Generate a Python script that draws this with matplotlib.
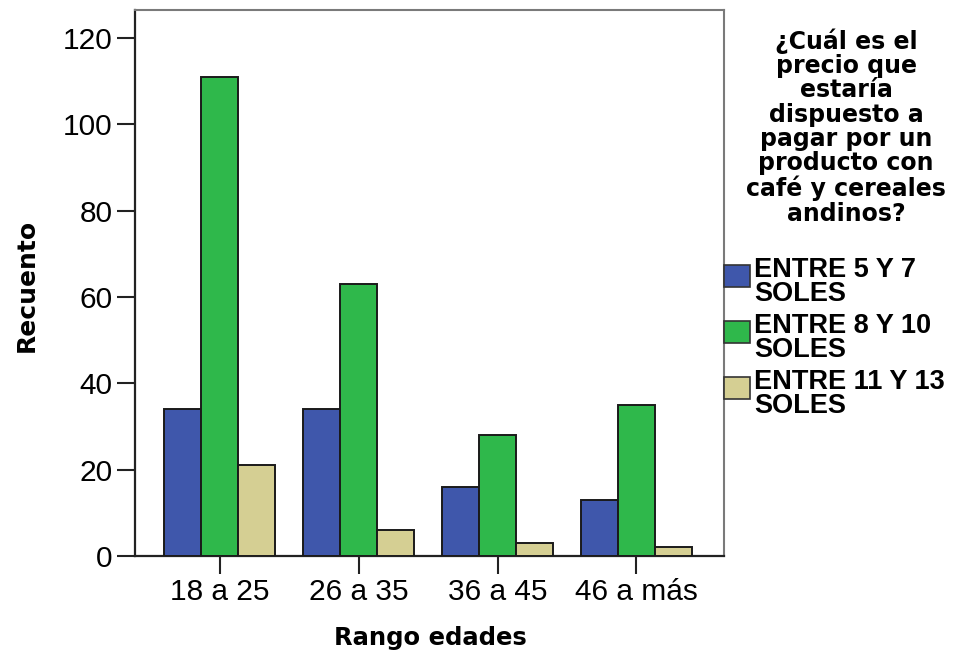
import numpy as np
import matplotlib.pyplot as plt
from matplotlib.patches import Rectangle

# data
grupos = ['18 a 25', '26 a 35', '36 a 45', '46 a más']
series = ['ENTRE 5 Y 7\nSOLES', 'ENTRE 8 Y 10\nSOLES', 'ENTRE 11 Y 13\nSOLES']
entre_5_7 = [34, 34, 16, 13]
entre_8_10 = [111, 63, 28, 35]
entre_11_13 = [21, 6, 3, 2]
colores = ['#3f57ab', '#2fb84b', '#d5cf93']
yticks = [0, 20, 40, 60, 80, 100, 120]

plt.rcParams['font.family'] = ['Liberation Sans', 'DejaVu Sans']

W, H = 963, 655
fig = plt.figure(figsize=(W / 100, H / 100), dpi=100)
ax = fig.add_axes([135 / W, 1 - 556 / H, 589 / W, 546 / H])

x = np.arange(len(grupos))
w = 0.266
for i, vals in enumerate([entre_5_7, entre_8_10, entre_11_13]):
    ax.bar(x + (i - 1) * w, vals, width=w, color=colores[i],
           edgecolor='#1a1a1a', linewidth=1.4, zorder=3)

ax.set_xlim(-0.61, 3.63)
ax.set_ylim(0, 126.5)
ax.set_yticks(yticks)
ax.set_xticks(x)
ax.set_xticklabels(grupos)
ax.tick_params(axis='both', labelsize=21.5, length=13, width=1.5, color='#222222', pad=3)

for s in ['left', 'bottom']:
    ax.spines[s].set_linewidth(1.6)
    ax.spines[s].set_color('#222222')
for s in ['top', 'right']:
    ax.spines[s].set_linewidth(1.5)
    ax.spines[s].set_color('#7a7a7a')

fig.text(27 / W, 1 - 285 / H, 'Recuento', rotation=90, ha='center', va='center',
         fontsize=18, fontweight='bold', family='DejaVu Sans')
fig.text(430 / W, 1 - 638 / H, 'Rango edades', ha='center', va='center',
         fontsize=17.5, fontweight='bold', family='DejaVu Sans')

# legend title
titulo = '¿Cuál es el\nprecio que\nestaría\ndispuesto a\npagar por un\nproducto con\ncafé y cereales\nandinos?'
fig.text(846 / W, 1 - 28 / H, titulo, ha='center', va='top', fontsize=17,
         fontweight='bold', family='DejaVu Sans', linespacing=1.02)

# legend entries: swatch aligned with the first line of each label
for i, (c, lab) in enumerate(zip(colores, series)):
    top = 265 + i * 56
    fig.patches.append(Rectangle((724 / W, 1 - (top + 22) / H), 26 / W, 22 / H,
                                 transform=fig.transFigure, facecolor=c,
                                 edgecolor='#333333', linewidth=1.2))
    fig.text(754 / W, 1 - (top - 8) / H, lab, ha='left', va='top', fontsize=19.5,
             fontweight='bold', linespacing=0.88)

fig.savefig('out.png', dpi=100)
